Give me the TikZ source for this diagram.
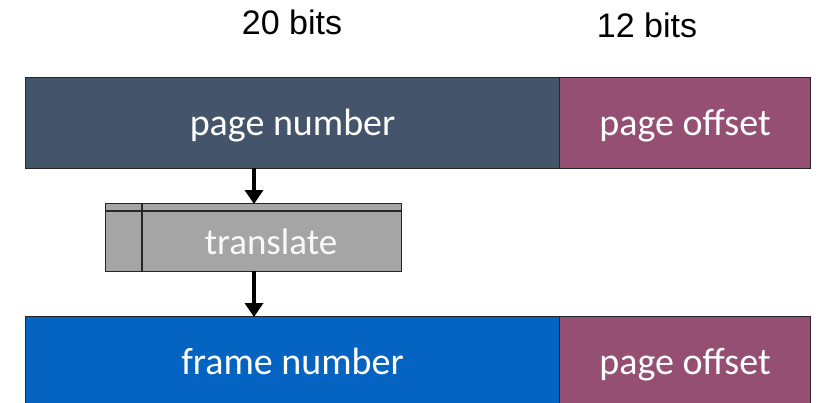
\documentclass[tikz,border=0pt]{standalone}
\usepackage{fontspec}
\setmainfont{Carlito}
\newfontfamily\labelfont{Liberation Sans}
\usetikzlibrary{arrows.meta}
\definecolor{pnum}{HTML}{44546A}
\definecolor{poff}{HTML}{954F72}
\definecolor{fnum}{HTML}{0563C1}
\definecolor{tgray}{HTML}{A5A5A5}
\tikzset{
  field/.style={draw=black!85, line width=1.2pt, minimum height=#1, inner sep=0pt,
    text=white, font=\fontsize{38}{44}\selectfont, anchor=north west,
    text height=31pt, text depth=7pt},
  bitlabel/.style={font=\labelfont\fontsize{34}{40}\selectfont},
  flow/.style={line width=4.5pt, -{Triangle[length=14pt,width=18pt]}, shorten >=-1pt},
}
\begin{document}
\begin{tikzpicture}[x=1pt,y=-1pt]
\useasboundingbox (0,0) rectangle (820,402);
\clip (0,0) rectangle (820,402);
% bit widths
\node[bitlabel] (w20) at (292,22) {20 bits};
\node[bitlabel] (w12) at (647,25) {12 bits};
% virtual address
\node[field=91pt, fill=pnum, minimum width=534pt] (pn) at (25,77) {page number};
\node[field=91pt, fill=poff, minimum width=251pt] (po) at (559,77) {page offset};
% physical address
\node[field=91pt, fill=fnum, minimum width=534pt] (fn) at (25,316) {frame number};
\node[field=91pt, fill=poff, minimum width=251pt] (fo) at (559,316) {page offset};
% translation unit
\node[draw=black!85, line width=1.2pt, fill=tgray, minimum width=296pt, minimum height=68pt,
  anchor=north west, inner sep=0pt] (tr) at (105,203) {};
\draw[black!85, line width=1.2pt] (tr.north west) ++(0,8) -- ++(296,0);
\draw[black!85, line width=1.2pt] (tr.north west) ++(37,0) -- ++(0,68);
\node[text=white!95!gray, font=\fontsize{37}{44}\selectfont] (trl) at (271,242) {translate};
% arrows
\coordinate (a1) at (254,168);
\coordinate (a2) at (254,203);
\coordinate (b1) at (254,271);
\coordinate (b2) at (254,316);
\draw[flow] (a1) -- (a2);
\draw[flow] (b1) -- (b2);
\end{tikzpicture}
\end{document}
